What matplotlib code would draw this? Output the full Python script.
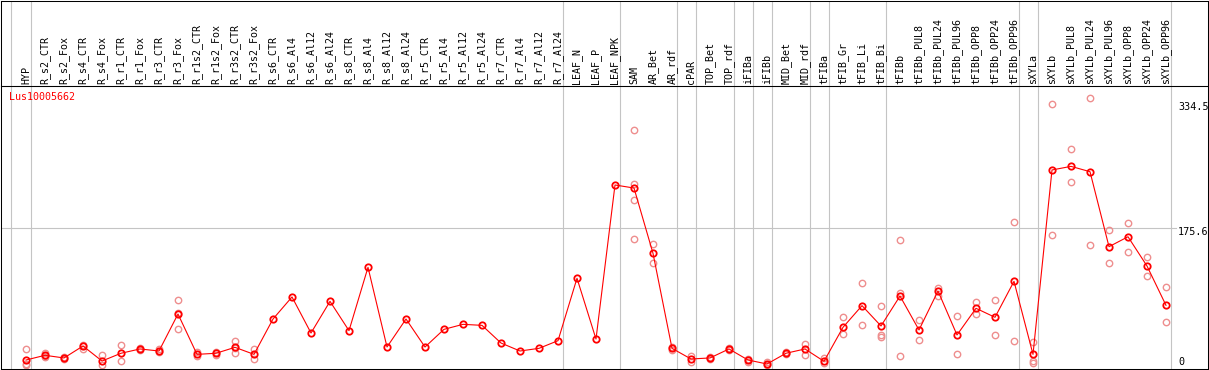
import matplotlib
matplotlib.use("Agg")
import matplotlib.pyplot as plt
import numpy as np

# ---------------- data ----------------
gene = "Lus10005662"

labels = ["HYP", "R_s2_CTR", "R_s2_Fox", "R_s4_CTR", "R_s4_Fox", "R_r1_CTR", "R_r1_Fox",
          "R_r3_CTR", "R_r3_Fox", "R_r1s2_CTR", "R_r1s2_Fox", "R_r3s2_CTR", "R_r3s2_Fox",
          "R_s6_CTR", "R_s6_Al4", "R_s6_Al12", "R_s6_Al24", "R_s8_CTR", "R_s8_Al4",
          "R_s8_Al12", "R_s8_Al24", "R_r5_CTR", "R_r5_Al4", "R_r5_Al12", "R_r5_Al24",
          "R_r7_CTR", "R_r7_Al4", "R_r7_Al12", "R_r7_Al24", "LEAF_N", "LEAF_P", "LEAF_NPK",
          "SAM", "AR_Bet", "AR_rdf", "cPAR", "TOP_Bet", "TOP_rdf", "iFIBa", "iFIBb",
          "MID_Bet", "MID_rdf", "tFIBa", "tFIB_Gr", "tFIB_Li", "tFIB_Bi", "tFIBb",
          "tFIBb_PUL8", "tFIBb_PUL24", "tFIBb_PUL96", "tFIBb_OPP8", "tFIBb_OPP24",
          "tFIBb_OPP96", "sXYLa", "sXYLb", "sXYLb_PUL8", "sXYLb_PUL24", "sXYLb_PUL96",
          "sXYLb_OPP8", "sXYLb_OPP24", "sXYLb_OPP96"]

means = [6.4, 12.4, 9.0, 24.3, 5.1, 15.0, 20.5, 17.9, 65.2, 13.6, 15.0, 22.6, 13.6,
         58.8, 87.0, 40.9, 81.4, 43.9, 124.9, 23.0, 58.8, 23.0, 45.6, 52.0, 50.7,
         28.1, 17.9, 21.3, 31.1, 110.9, 33.2, 230.2,
         226.3, 142.8, 21.3, 7.7, 9.0, 20.5, 6.4, 1.3, 15.0, 20.5, 4.7,
         48.2, 75.9, 49.9, 88.2, 44.8, 94.6, 38.4, 72.5, 61.0, 107.0,
         13.6, 249.4, 254.0, 247.2, 151.3, 164.0, 126.6, 76.3]

replicates = [[20, 1, 0], [15, 12, 10], [10, 8], [25, 21], [12.4, 0], [25.2, 5.1],
              [22, 19], [21, 16], [82.7, 67, 45.6], [16, 11], [17, 13], [31, 22, 15],
              [20.5, 7.7],
              [], [], [], [], [], [], [], [], [], [], [], [], [], [], [], [], [], [], [],
              [300, 231.5, 211, 161], [154.3, 130.3], [23, 19], [11.9, 4.3], [10, 8],
              [22, 19], [7.7, 4.3], [3.4, 0], [16, 14], [26.9, 12.8], [8.5, 2],
              [61, 39.6], [104.4, 50.7], [75, 38.4, 35.4], [160, 92, 12],
              [57.5, 32], [98.9, 88.2], [62.3, 13.6], [80.6, 65.6], [83.5, 38],
              [182.5, 30.7], [29, 5, 3], [333.4, 166.2], [275.8, 233.6], [341, 153.5],
              [172.6, 130], [181.6, 144.1], [138.5, 113.8], [99.4, 54.6]]

group_sizes = [1, 28, 3, 3, 1, 2, 1, 1, 2, 1, 3, 7, 1, 7]

scale_labels = ["334.5", "175.6", "0"]
scale_values = [334.5, 175.6, 0.0]
grid_value = 175.6

# ---------------- layout ----------------
W, H = 1209, 370
fig = plt.figure(figsize=(W / 100, H / 100), dpi=100)

COL0, COLW = 26.0, 19.0          # pixel of first column, column spacing
ZERO_PX, PX_PER_UNIT = 365.0, 0.782
L, R, T, HDR, B = 0.5, 1207.5, 0.5, 85.5, 368.5


def fx(px):
    return px / W


def fy(py):
    return 1 - py / H


xlim = ((L - COL0) / COLW, (R - COL0) / COLW)
ax = fig.add_axes([fx(L), fy(B), fx(R) - fx(L), fy(HDR) - fy(B)])
ax.set_xlim(*xlim)
ax.set_ylim((ZERO_PX - B) / PX_PER_UNIT, (ZERO_PX - HDR) / PX_PER_UNIT)

hx = fig.add_axes([fx(L), fy(HDR), fx(R) - fx(L), fy(T) - fy(HDR)])
hx.set_xlim(*xlim)
hx.set_ylim(0, 1)

for a in (ax, hx):
    a.set_xticks([])
    a.set_yticks([])
    a.patch.set_alpha(0)
    for s in a.spines.values():
        s.set_color("black")
        s.set_linewidth(0.75)

GREY = "#C4C4C4"
# group separators
ends = np.cumsum(group_sizes) - 1
seps = list(ends + 4.7 / COLW) + [-(15.3 / COLW)]
for s in seps:
    for a in (ax, hx):
        a.axvline(s, color=GREY, lw=0.8, zorder=0)

# horizontal grid line
ax.axhline(grid_value, xmin=0, xmax=(1176 - L) / (R - L), color=GREY, lw=0.8, zorder=0)

MONO = "DejaVu Sans Mono"
# column labels
for i, lab in enumerate(labels):
    hx.text(i, 0.02, lab, rotation=90, ha="center", va="bottom",
            fontsize=7.2, family=MONO, color="black")

# scale labels on the right
offsets = [-4, -4.6, 3]
for lab, v, off in zip(scale_labels, scale_values, offsets):
    ax.annotate(lab, ((1178 - COL0) / COLW, v), xytext=(0, off),
                textcoords="offset pixels", ha="left", va="center",
                fontsize=7.3, family=MONO, color="black", annotation_clip=False)

# gene name
fig.text(fx(9.3), fy(97.3), gene, color="red", ha="left", va="center",
         fontsize=7.2, family=MONO)

# replicates
rx = [i for i, r in enumerate(replicates) for _ in r]
ry = [v for r in replicates for v in r]
ax.plot(rx, ry, ls="none", marker="o", ms=4.6, mfc="none", mec="#EE8E8E",
        mew=1.0, zorder=2, clip_on=False)

# means
ax.plot(np.arange(len(means)), means, color="red", lw=0.8, marker="o", ms=4.6,
        mfc="none", mec="red", mew=1.3, zorder=3, clip_on=False)

fig.savefig("out.png", dpi=100)
